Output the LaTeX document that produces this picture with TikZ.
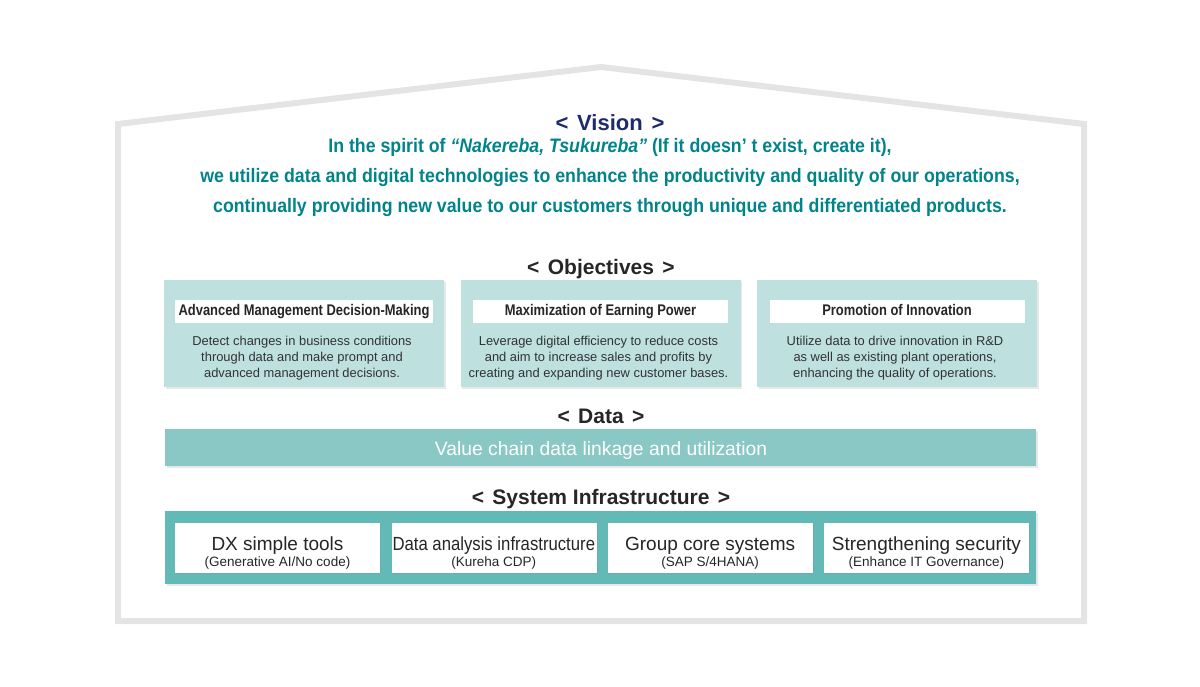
\documentclass[tikz,border=0pt]{standalone}
\usepackage{fontspec}
\setmainfont{Liberation Sans}
\newfontfamily\narrowfont[FakeStretch=0.84]{Liberation Sans}
\newfontfamily\visionfont[FakeStretch=0.91]{Liberation Sans}
\usetikzlibrary{shadows}

\definecolor{housegray}{HTML}{E4E4E4}
\definecolor{visionblue}{HTML}{1F2A6E}
\definecolor{visionteal}{HTML}{00838A}
\definecolor{objfill}{HTML}{BEE0DF}
\definecolor{datafill}{HTML}{89C8C5}
\definecolor{sysfill}{HTML}{62B9B6}
\definecolor{bodytext}{HTML}{333333}

\newcommand{\bracketed}[1]{<\hspace{0.4em}#1\hspace{0.4em}>}

\tikzset{
	heading/.style={font=\fontsize{21}{24}\selectfont\bfseries, text=black!85},
	visionline/.style={font=\visionfont\fontsize{19.5}{22}\selectfont\bfseries, text=visionteal},
	panel/.style={draw=none, drop shadow={opacity=0.18, shadow xshift=1.5pt, shadow yshift=-1.5pt}},
	objbox/.style={panel, fill=objfill, minimum width=280, minimum height=107, anchor=north west},
	objtitle/.style={fill=white, minimum width=255, minimum height=23, text height=11pt, text depth=3pt, font=\narrowfont\fontsize{15.4}{17}\selectfont\bfseries, text=black!85},
	objtext/.style={align=center, font=\fontsize{12.9}{16}\selectfont, text=bodytext},
	sysbox/.style={fill=white, minimum width=205, minimum height=50, anchor=north west, drop shadow={opacity=0.15, shadow xshift=1pt, shadow yshift=-1pt}}
}

\begin{document}
\begin{tikzpicture}[x=1pt, y=-1pt]
	\useasboundingbox (0,0) rectangle (1200,686);

	% Draw the house outline
	\draw[housegray, line width=6pt, line join=miter] (118,621) -- (118,124) -- (601,67) -- (1084,124) -- (1084,621) -- cycle;

	% Draw the vision
	\node[font=\fontsize{22}{24}\selectfont\bfseries, text=visionblue] (vision) at (610,123) {\bracketed{Vision}};
	\node[visionline] (vline1) at (610,147) {In the spirit of \textit{“Nakereba, Tsukureba”} (If it doesn’ t exist, create it),};
	\node[visionline] (vline2) at (610,177) {we utilize data and digital technologies to enhance the productivity and quality of our operations,};
	\node[visionline] (vline3) at (610,207) {continually providing new value to our customers through unique and differentiated products.};

	% Draw the objectives
	\node[heading] (objectives) at (601,269) {\bracketed{Objectives}};
	\foreach \i/\name/\title/\text in {
		0/decision/Advanced Management Decision-Making/{Detect changes in business conditions\\through data and make prompt and\\advanced management decisions.},
		1/earning/Maximization of Earning Power/{Leverage digital efficiency to reduce costs\\and aim to increase sales and profits by\\creating and expanding new customer bases.},
		2/innovation/Promotion of Innovation/{Utilize data to drive innovation in R\&D\\as well as existing plant operations,\\enhancing the quality of operations.}} {
		\node[objbox] (\name) at (164+\i*296.5,280) {};
		\node[objtitle] (\name title) at (304+\i*296.5,311) {\title};
		\node[objtext] (\name text) at (302+\i*296.5,358) {\text};
	}

	% Draw the data bar
	\node[heading] (data) at (601,416) {\bracketed{Data}};
	\node[panel, fill=datafill, minimum width=871, minimum height=37, anchor=north west] (databar) at (165,429) {};
	\node[font=\fontsize{19.3}{22}\selectfont, text=white] (datatext) at (601,451) {Value chain data linkage and utilization};

	% Draw the system infrastructure
	\node[heading] (system) at (601,499) {\bracketed{System Infrastructure}};
	\node[panel, fill=sysfill, minimum width=871, minimum height=73, anchor=north west] (sysbar) at (165,511) {};
	\foreach \i/\name/\sx/\title/\sub in {
		0/dxtools/1/DX simple tools/{(Generative AI/No code)},
		1/analysis/0.88/Data analysis infrastructure/{(Kureha CDP)},
		2/coresys/1/Group core systems/{(SAP S/4HANA)},
		3/security/1/Strengthening security/{(Enhance IT Governance)}} {
		\node[sysbox] (\name) at (175+\i*216.3,523) {};
		\node[font=\fontsize{19}{22}\selectfont, text=black!85] (\name title) at (277.5+\i*216.3,546) {\scalebox{\sx}[1]{\title}};
		\node[font=\fontsize{13.5}{15}\selectfont, text=black!85] (\name sub) at (277.5+\i*216.3,563) {\sub};
	}

\end{tikzpicture}
\end{document}
